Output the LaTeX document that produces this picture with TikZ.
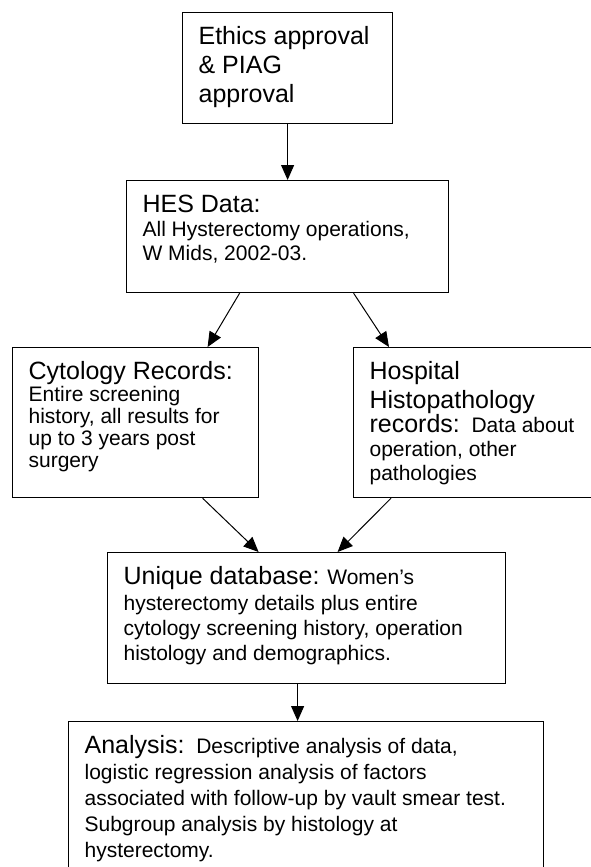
\documentclass[tikz,border=0pt]{standalone}
\usepackage{fontspec}
\setmainfont{Liberation Sans}
\usetikzlibrary{shapes,arrows.meta, positioning}

\newcommand{\hd}{\fontsize{25}{28.75}\selectfont}
\newcommand{\bd}{\fontsize{21}{24}\selectfont}
% text of a box: [line spacing] width, height, lines (text sits at the top, blank below)
\newcommand{\boxtext}[4][24pt]{\parbox[t][#3][t]{#2}{\raggedright\fontsize{21}{#1}\selectfont\vspace*{14pt}#4}}

\begin{document}
\begin{tikzpicture}[x=1pt,y=-1pt]
	\tikzstyle{every node}=[font=\bd]
	\tikzstyle{stage}=[draw, line width=1.2pt, anchor=north west, inner xsep=16pt, inner ysep=0pt]
	\tikzstyle{flow}=[line width=1pt, -{Triangle[length=15pt,width=13pt]}]

	\path[use as bounding box, clip] (0,0) rectangle (591,867); % the page edge cuts the right box and the last box

	\node[stage] (ethics) at (182,12) {\boxtext{178pt}{111pt}{\hd Ethics approval\\ \& PIAG\\ approval}};
	\node[stage] (hes) at (126,180) {\boxtext{290pt}{112pt}{{\hd HES Data:}\\ All Hysterectomy operations,\\ W Mids, 2002-03.}};
	\node[stage] (cyto) at (12,347) {\boxtext[22pt]{214pt}{150pt}{{\hd Cytology Records:}\\ Entire screening\\ history, all results for\\ up to 3 years post\\ surgery}};
	\node[stage] (hosp) at (353,347) {\boxtext{228pt}{150pt}{{\hd Hospital\\ Histopathology\\ records:}\ \ Data about\\ operation, other\\ pathologies}};
	\node[stage] (uniq) at (107,552) {\boxtext[25.4pt]{366pt}{131pt}{{\hd Unique database:} Women's\\ hysterectomy details plus entire\\ cytology screening history, operation\\ histology and demographics.}};
	\node[stage] (ana) at (68,721) {\boxtext[26pt]{443pt}{170pt}{{\hd Analysis:}\ \ Descriptive analysis of data,\\ logistic regression analysis of factors\\ associated with follow-up by vault smear test.\\ Subgroup analysis by histology at\\ hysterectomy.}};

	% arrows leave and reach the boxes off centre, as in the drawing
	\draw[flow] (ethics.south) -- (hes.north);
	\draw[flow] ([xshift=-48pt]hes.south) -- ([xshift=72pt]cyto.north);
	\draw[flow] ([xshift=66pt]hes.south) -- ([xshift=36pt]hosp.north west);
	\draw[flow] ([xshift=67pt]cyto.south) -- ([xshift=-48pt]uniq.north);
	\draw[flow] ([xshift=38pt]hosp.south west) -- ([xshift=31pt]uniq.north);
	\draw[flow] ([xshift=-9pt]uniq.south) -- ([xshift=-9pt]uniq.south |- ana.north);
\end{tikzpicture}
\end{document}
